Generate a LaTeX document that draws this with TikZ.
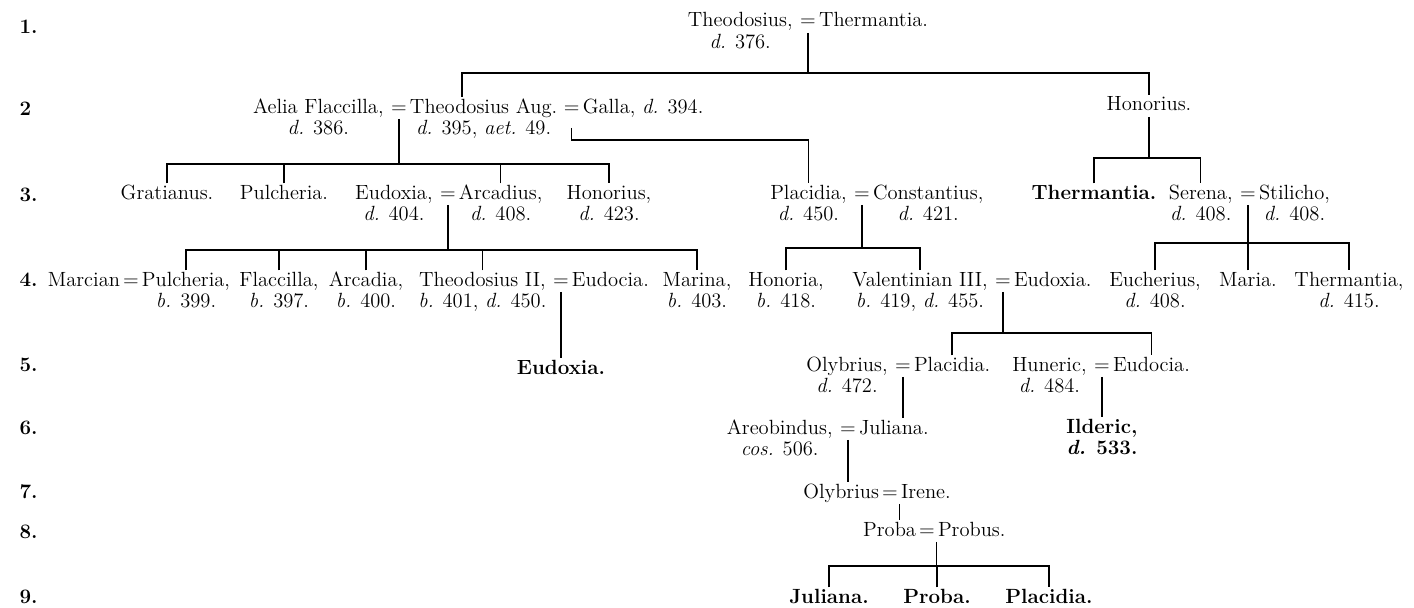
\documentclass[tikz,border=0pt]{standalone}
\usepackage{fontspec}
\usetikzlibrary{positioning}
\newcommand{\namesize}{\fontsize{11.7}{14}\selectfont}
\tikzset{
  pers/.style={anchor=base, inner sep=0.5pt, text height=8pt, text depth=2.5pt},
  heir/.style={pers, font=\namesize\bfseries},
  wed/.style={pers},
  gen/.style={anchor=base west, font=\namesize\bfseries},
}
\begin{document}
\begin{tikzpicture}[x=0.02cm, y=-0.02cm, font=\namesize, line width=0.8pt]
            \useasboundingbox (0,0) rectangle (1414,608);
            % \draw[help lines, step=50] (0,0) grid (1414,608);
            \node[gen] (g1) at (13,34) {1.};
            \node[gen] (g2) at (13,116) {2};
            \node[gen] (g3) at (13,201) {3.};
            \node[gen] (g4) at (13,286) {4.};
            \node[gen] (g5) at (13,371) {5.};
            \node[gen] (g6) at (13,434) {6.};
            \node[gen] (g7) at (13,498) {7.};
            \node[gen] (g8) at (13,538) {8.};
            \node[gen] (g9) at (13,603) {9.};

            \coordinate (b1) at (0,73);  \coordinate (b2) at (0,164);
            \coordinate (b3) at (0,140); \coordinate (b4) at (0,158);
            \coordinate (b5) at (0,250); \coordinate (b6) at (0,248);
            \coordinate (b7) at (0,243); \coordinate (b8) at (0,333);
            \coordinate (b9) at (0,566); \coordinate (d1) at (462,97);

            \node[wed] (e1) at (808,27) {=};
            \node[pers, base left=2.5pt of e1] (theo) {Theodosius,};
            \node[pers, base right=0pt of e1] (therm) {Thermantia.};
            \node[pers, below=0pt of theo] (theod) {\textit{d.} 376.};

            \node[wed] (e2) at (399,113) {=};
            \node[pers, base left=2.5pt of e2] (aelia) {Aelia Flaccilla,};
            \node[pers, base right=0pt of e2] (taug) {Theodosius Aug.};
            \node[wed, base right=2pt of taug] (e3) {=};
            \node[pers, base right=0pt of e3] (galla) {Galla, \textit{d.} 394.};
            \node[pers, below=0pt of aelia] (aeliad) {\textit{d.} 386.};
            \node[pers, below=0pt of taug] (taugd) {\textit{d.} 395, \textit{aet.} 49.};
            \node[pers] (hon) at (1149,111) {Honorius.};

            \node[pers] (grat) at (167,199) {Gratianus.};
            \node[pers] (pulch) at (284,199) {Pulcheria.};
            \node[wed] (e4) at (448,199) {=};
            \node[pers, base left=2.5pt of e4] (eudox) {Eudoxia,};
            \node[pers, base right=0pt of e4] (arcad) {Arcadius,};
            \node[pers, below=0pt of eudox] (eudoxd) {\textit{d.} 404.};
            \node[pers, below=0pt of arcad] (arcadd) {\textit{d.} 408.};
            \node[pers] (honb) at (609,199) {Honorius,};
            \node[pers, below=0pt of honb] (honbd) {\textit{d.} 423.};
            \node[wed] (e5) at (862,199) {=};
            \node[pers, base left=2.5pt of e5] (placa) {Placidia,};
            \node[pers, base right=0pt of e5] (const) {Constantius,};
            \node[pers, below=0pt of placa] (placad) {\textit{d.} 450.};
            \node[pers, below=0pt of const] (constd) {\textit{d.} 421.};
            \node[heir] (thermb) at (1094,199) {Thermantia.};
            \node[wed] (e6) at (1248,199) {=};
            \node[pers, base left=2.5pt of e6] (serena) {Serena,};
            \node[pers, base right=0pt of e6] (stil) {Stilicho,};
            \node[pers, below=0pt of serena] (serenad) {\textit{d.} 408.};
            \node[pers, below=0pt of stil] (stild) {\textit{d.} 408.};

            \node[wed] (e7) at (131,286) {=};
            \node[pers, base left=0pt of e7] (marc) {Marcian};
            \node[pers, base right=0pt of e7] (pulchb) {Pulcheria,};
            \node[pers, below=0pt of pulchb] (pulchbd) {\textit{b.} 399.};
            \node[pers] (flac) at (279,286) {Flaccilla,};
            \node[pers, below=0pt of flac] (flacd) {\textit{b.} 397.};
            \node[pers] (arcdia) at (366,286) {Arcadia,};
            \node[pers, below=0pt of arcdia] (arcdiad) {\textit{b.} 400.};
            \node[wed] (e8) at (561,286) {=};
            \node[pers, base left=2.5pt of e8] (theo2) {Theodosius II,};
            \node[pers, base right=0pt of e8] (eudoc) {Eudocia.};
            \node[pers, below=0pt of theo2] (theo2d) {\textit{b.} 401, \textit{d.} 450.};
            \node[pers] (marina) at (697,286) {Marina,};
            \node[pers, below=0pt of marina] (marinad) {\textit{b.} 403.};
            \node[pers] (honor) at (786,286) {Honoria,};
            \node[pers, below=0pt of honor] (honord) {\textit{b.} 418.};
            \node[wed] (e9) at (1003,286) {=};
            \node[pers, base left=2.5pt of e9] (valent) {Valentinian III,};
            \node[pers, base right=0pt of e9] (eudoxb) {Eudoxia.};
            \node[pers, below=0pt of valent] (valentd) {\textit{b.} 419, \textit{d.} 455.};
            \node[pers] (euch) at (1155,286) {Eucherius,};
            \node[pers, below=0pt of euch] (euchd) {\textit{d.} 408.};
            \node[pers] (maria) at (1248,286) {Maria.};
            \node[pers] (thermc) at (1349,286) {Thermantia,};
            \node[pers, below=0pt of thermc] (thermcd) {\textit{d.} 415.};

            \node[heir] (eudoxc) at (561,374) {Eudoxia.};
            \node[wed] (e10) at (903,371) {=};
            \node[pers, base left=2.5pt of e10] (olyb) {Olybrius,};
            \node[pers, base right=0pt of e10] (placb) {Placidia.};
            \node[pers, below=0pt of olyb] (olybd) {\textit{d.} 472.};
            \node[wed] (e11) at (1102,371) {=};
            \node[pers, base left=2.5pt of e11] (hun) {Huneric,};
            \node[pers, base right=0pt of e11] (eudocb) {Eudocia.};
            \node[pers, below=0pt of hun] (hund) {\textit{d.} 484.};

            \node[wed] (e12) at (848,434) {=};
            \node[pers, base left=2.5pt of e12] (areo) {Areobindus,};
            \node[pers, base right=0pt of e12] (jul) {Juliana.};
            \node[pers, below=0pt of areo] (areod) {\textit{cos.} 506.};
            \node[heir] (ild) at (1102,433) {Ilderic,};
            \node[heir, below=0pt of ild] (ildd) {\textit{d.} 533.};

            \node[wed] (e13) at (890,498) {=};
            \node[pers, base left=0pt of e13] (olybb) {Olybrius};
            \node[pers, base right=0pt of e13] (irene) {Irene.};
            \node[wed] (e14) at (927,536) {=};
            \node[pers, base left=0pt of e14] (proba) {Proba};
            \node[pers, base right=0pt of e14] (probus) {Probus.};

            \node[heir] (julb) at (829,603) {Juliana.};
            \node[heir] (probab) at (937,603) {Proba.};
            \node[heir] (placc) at (1049,603) {Placidia.};

            \draw (e1.south) -- (e1 |- b1);
            \draw (d1) -- (d1 |- b1) -- (hon |- b1) -- (hon.north);
            \draw (e2.south) -- (e2 |- b2);
            \draw (grat.north) -- (grat |- b2) -- (honb |- b2) -- (honb.north);
            \draw (pulch.north) -- (pulch |- b2);
            \draw (arcad.north) -- (arcad |- b2);
            \draw ([yshift=-5pt]e3.south) -- (e3 |- b3) -- (placa |- b3) -- (placa.north);
            \draw (hon.south) -- (hon |- b4);
            \draw (thermb.north) -- (thermb |- b4) -- (serena |- b4) -- (serena.north);
            \draw (e4.south) -- (e4 |- b5);
            \draw (pulchb.north) -- (pulchb |- b5) -- (marina |- b5) -- (marina.north);
            \draw (flac.north) -- (flac |- b5);
            \draw (arcdia.north) -- (arcdia |- b5);
            \draw (theo2.north) -- (theo2 |- b5);
            \draw (e5.south) -- (e5 |- b6);
            \draw (honor.north) -- (honor |- b6) -- (valent |- b6) -- (valent.north);
            \draw (e6.south) -- (e6 |- b7);
            \draw (euch.north) -- (euch |- b7) -- (thermc |- b7) -- (thermc.north);
            \draw (maria.north) -- (maria |- b7);
            \draw (e8.south) -- (eudoxc.north);
            \draw (e9.south) -- (e9 |- b8);
            \draw (placb.north) -- (placb |- b8) -- (eudocb |- b8) -- (eudocb.north);
            \draw (e10.south) -- (e10 |- jul.north);
            \draw (e11.south) -- (ild.north);
            \draw (e12.south) -- (e12 |- olybb.north);
            \draw (irene.south west) -- (irene.south west |- proba.north);
            \draw (probus.south west) -- (probus.south west |- b9);
            \draw (julb.north) -- (julb |- b9) -- (placc |- b9) -- (placc.north);
            \draw (probab.north) -- (probab |- b9);
\end{tikzpicture}
\end{document}
